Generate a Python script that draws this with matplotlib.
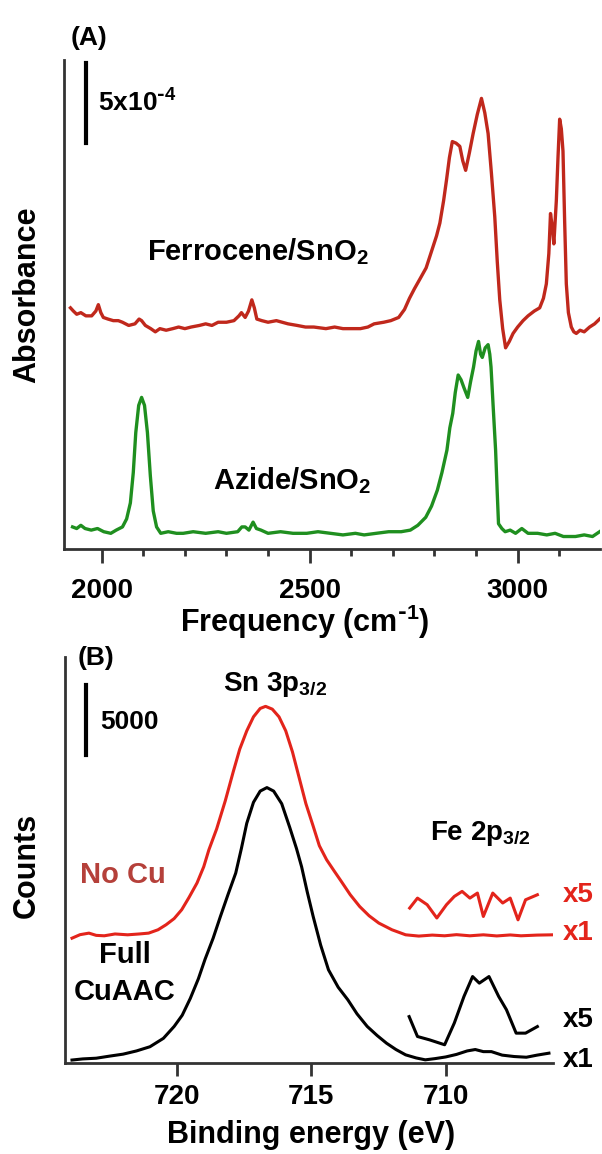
import matplotlib
matplotlib.use("Agg")
import matplotlib.pyplot as plt
from matplotlib.ticker import MultipleLocator, FixedLocator

# ---- (A) IR spectra, absorbance in units of 1e-4 ----
fc_freq = [1925, 1932, 1940, 1950, 1962, 1976, 1986, 1992, 1998, 2004, 2015, 2028,
           2040, 2050, 2065, 2080, 2090, 2096, 2105, 2118, 2129, 2140, 2155, 2171,
           2185, 2200, 2215, 2235, 2250, 2265, 2280, 2300, 2318, 2330, 2336, 2345,
           2353, 2361, 2367, 2373, 2385, 2400, 2420, 2448, 2470, 2490, 2510, 2539,
           2560, 2580, 2600, 2622, 2640, 2655, 2678, 2695, 2714, 2728, 2740, 2752,
           2765, 2780, 2795, 2805, 2813, 2822, 2829, 2836, 2843, 2852, 2861, 2868,
           2875, 2884, 2893, 2903, 2913, 2921, 2929, 2937, 2945, 2951, 2957, 2964,
           2971, 2980, 2989, 3000, 3013, 3025, 3040, 3053, 3062, 3069, 3075, 3079,
           3084, 3087, 3093, 3097, 3101, 3105, 3109, 3113, 3117, 3122, 3129, 3135,
           3141, 3150, 3160, 3173, 3185, 3197]
fc_abs = [15.1, 14.9, 14.7, 14.8, 14.6, 14.6, 14.9, 15.3, 14.8, 14.5, 14.4, 14.3,
          14.3, 14.2, 14.0, 14.1, 14.4, 14.3, 14.0, 13.8, 13.6, 13.8, 13.7, 13.8,
          13.9, 13.8, 13.9, 14.0, 14.1, 14.0, 14.2, 14.2, 14.3, 14.6, 14.8, 14.5,
          14.9, 15.6, 15.1, 14.4, 14.3, 14.2, 14.3, 14.1, 14.0, 13.9, 13.9, 13.8,
          13.9, 13.8, 13.8, 13.8, 13.9, 14.1, 14.2, 14.3, 14.5, 15.0, 15.7, 16.3,
          16.9, 17.6, 18.8, 19.6, 20.4, 21.8, 23.1, 24.5, 25.5, 25.4, 25.2, 24.3,
          23.7, 24.8, 26.0, 27.2, 28.2, 27.3, 26.0, 23.5, 20.8, 18.0, 15.6, 13.8,
          12.6, 13.0, 13.5, 13.9, 14.3, 14.6, 14.9, 15.1, 15.7, 16.6, 18.5, 21.0,
          20.0, 19.1, 21.8, 24.5, 26.9, 26.3, 24.9, 20.5, 16.6, 14.8, 13.9, 13.6,
          13.5, 13.7, 13.6, 13.9, 14.1, 14.4]

az_freq = [1930, 1940, 1950, 1960, 1975, 1990, 2005, 2022, 2035, 2050, 2060, 2069,
           2076, 2082, 2089, 2096, 2103, 2110, 2117, 2124, 2132, 2142, 2160, 2180,
           2196, 2220, 2250, 2280, 2300, 2327, 2337, 2345, 2354, 2364, 2372, 2383,
           2400, 2430, 2460, 2493, 2520, 2550, 2580, 2610, 2631, 2660, 2690, 2720,
           2742, 2760, 2779, 2793, 2807, 2818, 2830, 2837, 2844, 2850, 2857, 2864,
           2871, 2880, 2887, 2894, 2900, 2906, 2911, 2915, 2922, 2929, 2933, 2936,
           2941, 2947, 2951, 2954, 2962, 2970, 2982, 2995, 3010, 3025, 3048, 3070,
           3090, 3110, 3139, 3160, 3180, 3197]
az_abs = [1.4, 1.3, 1.5, 1.3, 1.2, 1.3, 1.1, 1.0, 1.2, 1.4, 1.9, 2.9,
          4.8, 7.3, 9.0, 9.5, 9.0, 7.3, 4.6, 2.4, 1.4, 1.0, 1.1, 1.0,
          1.0, 1.1, 1.0, 1.1, 1.0, 1.1, 1.4, 1.4, 1.2, 1.7, 1.3, 1.2,
          1.0, 1.1, 1.0, 1.0, 1.1, 1.0, 0.9, 1.0, 0.9, 1.0, 1.1, 1.1,
          1.2, 1.5, 2.0, 2.7, 3.7, 4.8, 6.2, 7.6, 8.5, 9.8, 10.9, 10.6,
          10.1, 9.5, 10.5, 11.4, 12.4, 13.0, 12.2, 12.0, 12.6, 12.8, 12.2, 11.4,
          9.0, 6.2, 3.5, 1.6, 1.3, 1.1, 1.2, 1.0, 1.3, 1.0, 1.0, 0.9,
          1.0, 0.8, 0.8, 0.9, 0.8, 1.1]

# ---- (B) XPS, counts ----
full_be = [723.9, 723.5, 723.0, 722.5, 722.0, 721.5, 721.0, 720.5, 720.1, 719.8,
           719.5, 719.2, 718.95, 718.65, 718.38, 718.1, 717.81, 717.6, 717.4, 717.15,
           716.9, 716.65, 716.4, 716.1, 715.8, 715.55, 715.36, 715.15, 714.93, 714.65,
           714.36, 714.0, 713.64, 713.3, 712.92, 712.55, 712.2, 711.85, 711.49, 711.1,
           710.76, 710.4, 710.0, 709.6, 709.2, 708.9, 708.6, 708.3, 707.9, 707.45,
           707.0, 706.6, 706.16]
full_counts = [200, 280, 330, 480, 620, 850, 1150, 1750, 2600, 3400,
               4600, 6000, 7400, 8900, 10450, 12000, 13550, 15300, 17100, 18600,
               19400, 19650, 19400, 18500, 16800, 15300, 14000, 12200, 10450, 8400,
               6640, 5400, 4500, 3500, 2600, 1950, 1400, 950, 570, 350,
               214, 300, 420, 600, 850, 950, 800, 800, 550, 450,
               400, 550, 690]

full_x5_be = [711.36, 711.05, 710.6, 710.04, 709.68, 709.32, 709.0, 708.75, 708.39,
              708.03, 707.74, 707.38, 707.03, 706.59]
full_x5_counts = [3300, 1880, 1640, 1290, 2840, 4740, 6160, 5690, 6160,
                  4740, 3790, 2120, 2120, 2590]

nocu_be = [723.9, 723.6, 723.27, 723.0, 722.7, 722.3, 721.83, 721.4, 721.05, 720.7,
           720.4, 720.1, 719.82, 719.55, 719.25, 719.0, 718.81, 718.52, 718.2, 717.9,
           717.66, 717.4, 717.15, 716.9, 716.7, 716.45, 716.2, 715.95, 715.7, 715.43,
           715.2, 714.93, 714.7, 714.43, 714.15, 713.9, 713.55, 713.2, 712.85, 712.49,
           712.0, 711.49, 711.0, 710.5, 710.04, 709.6, 709.1, 708.6, 708.1, 707.6,
           707.2, 706.6, 706.01]
nocu_counts = [8900, 9150, 9260, 9100, 9070, 9200, 9140, 9200, 9260, 9500,
               9860, 10300, 10930, 11800, 12840, 14000, 15200, 16700, 18700, 20800,
               22400, 23700, 24700, 25300, 25450, 25250, 24700, 23700, 22200, 20200,
               18500, 16900, 15500, 14500, 13700, 13000, 12000, 11160, 10500, 9980,
               9500, 9140, 9050, 9120, 9070, 9150, 9070, 9140, 9060, 9130,
               9070, 9120, 9140]

nocu_x5_be = [711.34, 711.05, 710.69, 710.33, 709.97, 709.68, 709.39, 709.1, 708.82,
              708.6, 708.25, 707.88, 707.6, 707.31, 707.03, 706.59]
nocu_x5_counts = [11050, 11760, 11290, 10340, 11290, 11880, 12240, 11760, 12120,
                  10450, 12120, 11410, 11760, 10210, 11640, 12000]

plt.rcParams['font.family'] = ['Liberation Sans', 'DejaVu Sans']
plt.rcParams['font.weight'] = 'bold'
plt.rcParams['mathtext.default'] = 'regular'

fig = plt.figure(figsize=(6.02, 11.54), dpi=100)
ax1 = fig.add_axes([0.106, 0.524, 0.890, 0.424])
ax2 = fig.add_axes([0.108, 0.079, 0.811, 0.352])

spine_col = '#333333'
for ax in (ax1, ax2):
    for s in ('top', 'right'):
        ax.spines[s].set_visible(False)
    for s in ('left', 'bottom'):
        ax.spines[s].set_color(spine_col)
        ax.spines[s].set_linewidth(2)
    ax.set_yticks([])

# top panel
ax1.plot(fc_freq, fc_abs, color='#c0281c', lw=2.4, solid_joinstyle='round')
ax1.plot(az_freq, az_abs, color='#1f8f1f', lw=2.4, solid_joinstyle='round')
ax1.set_xlim(1909, 3197)
ax1.set_ylim(0, 30.6)
ax1.xaxis.set_major_locator(FixedLocator([2000, 2500, 3000]))
ax1.xaxis.set_minor_locator(MultipleLocator(100))
ax1.tick_params(axis='x', which='major', direction='out', length=10, width=2,
                color=spine_col, labelsize=20, pad=11)
ax1.tick_params(axis='x', which='minor', direction='out', length=5, width=2,
                color=spine_col)
ax1.set_xlabel(r'Frequency (cm$^{\text{-}1}$)', fontsize=22, fontweight='bold')
ax1.xaxis.set_label_coords(0.45, -0.11)
ax1.set_ylabel('Absorbance', fontsize=22, fontweight='bold')
ax1.yaxis.set_label_coords(-0.041, 0.52)

ax1.plot([1962, 1962], [25.4, 30.4], color='black', lw=3, clip_on=False)
ax1.text(1990, 27.9, r'5x10$^{\text{-}4}$', fontsize=19, va='center', ha='left')
ax1.text(1925, 32.0, '(A)', fontsize=19, va='center', ha='left')
ax1.text(2375, 18.6, 'Ferrocene/SnO$_2$', fontsize=21, ha='center', va='center')
ax1.text(2459, 4.3, 'Azide/SnO$_2$', fontsize=21, ha='center', va='center')

# bottom panel
red = '#e3241b'
ax2.plot(nocu_be, nocu_counts, color=red, lw=2.2, solid_joinstyle='round')
ax2.plot(nocu_x5_be, nocu_x5_counts, color=red, lw=2.2, solid_joinstyle='round')
ax2.plot(full_be, full_counts, color='black', lw=2.2, solid_joinstyle='round')
ax2.plot(full_x5_be, full_x5_counts, color='black', lw=2.2, solid_joinstyle='round')
ax2.set_xlim(724.16, 706.0)
ax2.set_ylim(0, 29000)
ax2.set_xticks([720, 715, 710])
ax2.tick_params(axis='x', direction='out', length=9, width=2, color=spine_col,
                labelsize=20, pad=6)
ax2.set_xlabel('Binding energy (eV)', fontsize=22, fontweight='bold')
ax2.xaxis.set_label_coords(0.504, -0.14)
ax2.set_ylabel('Counts', fontsize=22, fontweight='bold')
ax2.yaxis.set_label_coords(-0.047, 0.485)

ax2.plot([723.38, 723.38], [22000, 27000], color='black', lw=3, clip_on=False)
ax2.text(722.86, 24300, '5000', fontsize=19, va='center', ha='left')
ax2.text(723.68, 28900, '(B)', fontsize=19, va='center', ha='left')
ax2.text(716.36, 27000, 'Sn 3p$_{3/2}$', fontsize=20, ha='center', va='center')
ax2.text(708.7, 16400, 'Fe 2p$_{3/2}$', fontsize=20, ha='center', va='center')
ax2.text(722.0, 13400, 'No Cu', fontsize=21, ha='center', va='center', color='#b5403a')
ax2.text(721.93, 7700, 'Full', fontsize=21, ha='center', va='center')
ax2.text(721.93, 5070, 'CuAAC', fontsize=21, ha='center', va='center')
ax2.text(705.65, 12000, 'x5', fontsize=20, ha='left', va='center', color=red)
ax2.text(705.65, 9290, 'x1', fontsize=20, ha='left', va='center', color=red)
ax2.text(705.65, 3070, 'x5', fontsize=20, ha='left', va='center')
ax2.text(705.65, 210, 'x1', fontsize=20, ha='left', va='center')

fig.savefig('out.png', dpi=100)
